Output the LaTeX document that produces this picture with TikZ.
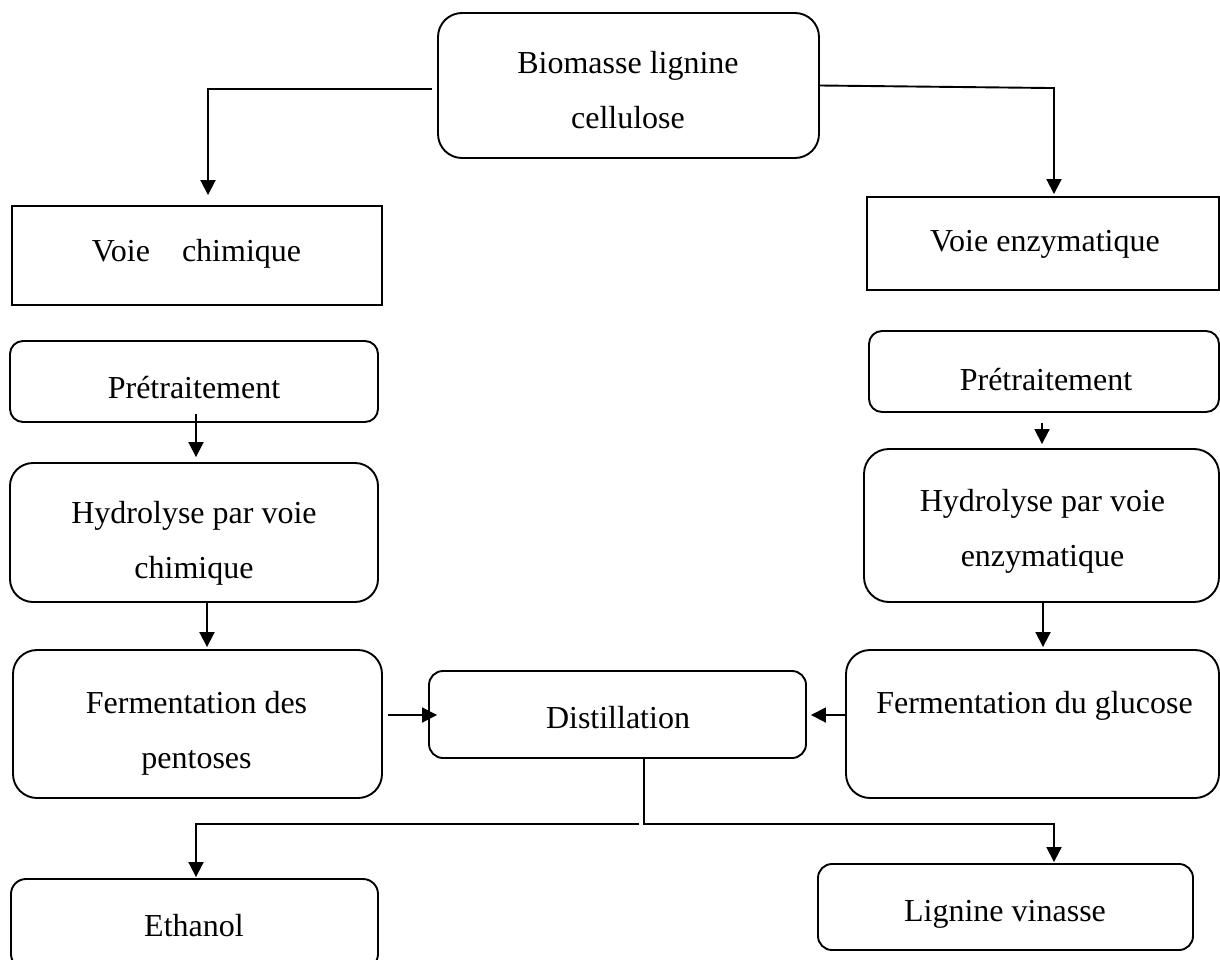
\documentclass[tikz,border=0pt]{standalone}
\usepackage{fontspec}
\setmainfont{Liberation Serif}
\usetikzlibrary{arrows.meta,calc}

\begin{document}
\begin{tikzpicture}[x=1pt, y=-1pt, line width=1.9pt,
	every node/.style={font=\fontsize{32}{55}\selectfont, inner sep=0pt},
	>={Triangle[length=15pt,width=15pt]},
	rbox/.style={draw, rounded corners=#1},
	sbox/.style={draw},
	lbl/.style={text height=22pt, text depth=7pt},
	lbls/.style={align=center}]
	\useasboundingbox (0,0) rectangle (1220,960);
	% boxes
	\node[rbox=24pt, minimum width=381pt, minimum height=145pt] (bio) at (628.5,85.5) {};
	\node[sbox, minimum width=370pt, minimum height=99pt] (vchim) at (197,255.5) {};
	\node[sbox, minimum width=352pt, minimum height=93pt] (venz) at (1043,243.5) {};
	\node[rbox=13pt, minimum width=368pt, minimum height=81pt] (pretl) at (194,381.5) {};
	\node[rbox=13pt, minimum width=350pt, minimum height=81pt] (pretr) at (1044,371.5) {};
	\node[rbox=23pt, minimum width=368pt, minimum height=139pt] (hydl) at (194,532.5) {};
	\node[rbox=25pt, minimum width=355pt, minimum height=153pt] (hydr) at (1041.5,525.5) {};
	\node[rbox=24pt, minimum width=369pt, minimum height=148pt] (ferml) at (197.5,724) {};
	\node[rbox=14pt, minimum width=377pt, minimum height=87pt] (dist) at (617.5,714.5) {};
	\node[rbox=24pt, minimum width=373pt, minimum height=148pt] (fermr) at (1032.5,724) {};
	\node[rbox=15pt, minimum width=367pt, minimum height=90pt] (eth) at (194.5,924) {};
	\node[rbox=14pt, minimum width=375pt, minimum height=86pt] (lig) at (1005.5,907) {};
	% texts
	\node[lbls] (t-bio) at (628,90) {Biomasse lignine\\cellulose};
	\node[lbl] (t-vchim) at (196.5,254) {Voie\hspace{1em}chimique};
	\node[lbl] (t-venz) at (1045,244) {Voie enzymatique};
	\node[lbl] (t-pretl) at (194,391) {Prétraitement};
	\node[lbl] (t-pretr) at (1046,383) {Prétraitement};
	\node[lbls] (t-hydl) at (194,543) {Hydrolyse par voie\\chimique};
	\node[lbls] (t-hydr) at (1042.5,531) {Hydrolyse par voie\\enzymatique};
	\node[lbls] (t-ferml) at (196.5,733) {Fermentation des\\pentoses};
	\node[lbl] (t-fermr) at (1034.5,706) {Fermentation du glucose};
	\node[lbl] (t-dist) at (618,721) {Distillation};
	\node[lbl] (t-eth) at (194,929) {Ethanol};
	\node[lbl] (t-lig) at (1005,914) {Lignine vinasse};
	% connectors
	\draw[->] ($(bio.west)+(-5,3.5)$) -| ($(vchim.north)+(11,-10)$);
	\draw[->] (bio.east) -- ($(venz.north)+(11,-108)$) -- ($(venz.north)+(11,-2)$);
	\draw[->] ($(pretl.south)+(2,-9)$) -- ($(hydl.north)+(2,-5)$);
	\draw[->] ($(hydl.south)+(13,0)$) -- ($(ferml.north)+(9.5,-2)$);
	\draw[->] ($(pretr.south)+(-2,10)$) -- ($(hydr.north)+(0.5,-4)$);
	\draw[->] ($(hydr.south)+(1.5,0)$) -- ($(fermr.north)+(10.5,-2)$);
	\draw[->] ($(ferml.east)+(5,-9)$) -- ($(dist.west)+(9,0.5)$);
	\draw[->] ($(fermr.west)+(0,-9)$) -- ($(dist.east)+(4,0.5)$);
	\coordinate (split) at ($(dist.south)+(26.5,65)$);
	\draw[->] (dist.south -| split) -- (split) -| ($(lig.north)+(48.5,-1)$);
	\draw[->] ($(split)+(-5,0)$) -| ($(eth.north)+(1.5,-1)$);
\end{tikzpicture}
\end{document}
